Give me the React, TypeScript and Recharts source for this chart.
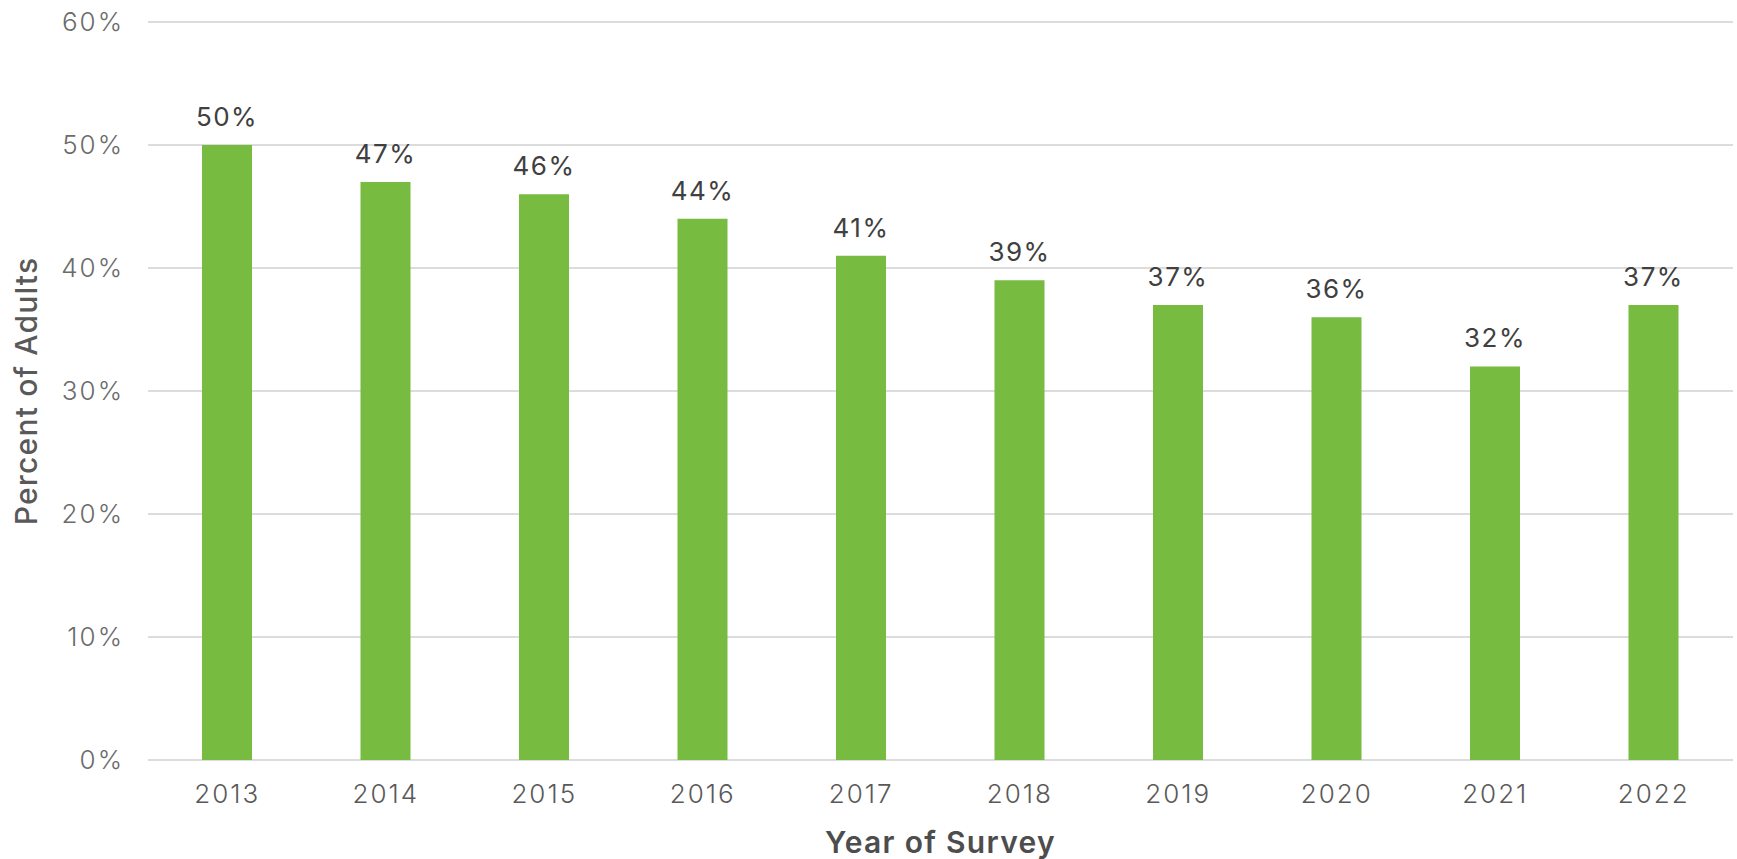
import React from 'react';
import { BarChart, Bar, XAxis, YAxis, CartesianGrid, LabelList, Label } from 'recharts';

const years = ['2013', '2014', '2015', '2016', '2017', '2018', '2019', '2020', '2021', '2022'];
const percentAdults = [50, 47, 46, 44, 41, 39, 37, 36, 32, 37];
const yTicks = [0, 10, 20, 30, 40, 50, 60];

const data = years.map((year, i) => ({ year, value: percentAdults[i] }));

const FONT = 'Inter, "Noto Sans", sans-serif';

const YTitle = (props: any) => {
  const vb = props.viewBox || {};
  const cy = vb.y + vb.height / 2;
  const x = 37;
  return (
    <text
      x={x}
      y={cy}
      transform={`rotate(-90 ${x} ${cy})`}
      textAnchor="middle"
      fill="#595959"
      fontSize={30}
      fontWeight={500}
      fontFamily={FONT}
      letterSpacing={1.2}
    >
      Percent of Adults
    </text>
  );
};

export default function App() {
  return (
    <div style={{ position: 'absolute', left: 0, top: 0, background: '#fff' }}>
      <BarChart
        width={1737}
        height={859}
        data={data}
        margin={{ top: 22, right: 4, bottom: 0, left: 0 }}
        barCategoryGap={0}
      >
        <CartesianGrid vertical={false} stroke="#dcdcdc" strokeWidth={2} />
        <XAxis
          dataKey="year"
          height={99}
          axisLine={false}
          tickLine={false}
          tickSize={0}
          tickMargin={25}
          interval={0}
          tick={{ fill: '#595959', fontSize: 26, fontFamily: FONT, fontWeight: 300, letterSpacing: 2 }}
        >
          <Label
            value="Year of Survey"
            position="insideBottom"
            offset={6}
            fill="#4d4d4d"
            fontSize={30}
            fontWeight={600}
            fontFamily={FONT}
            letterSpacing={1.3}
          />
        </XAxis>
        <YAxis
          width={148}
          domain={[0, 60]}
          ticks={yTicks}
          tickFormatter={(v: number) => `${v}%`}
          axisLine={false}
          tickLine={false}
          tickSize={0}
          tickMargin={24}
          tick={{ fill: '#6b6b6b', fontSize: 26, fontFamily: FONT, fontWeight: 300, letterSpacing: 2 }}
        >
          <Label content={<YTitle />} />
        </YAxis>
        <Bar dataKey="value" fill="#77bb41" barSize={50} isAnimationActive={false}>
          <LabelList
            dataKey="value"
            position="top"
            offset={19}
            formatter={(v: number) => `${v}%`}
            fill="#404040"
            fontSize={26}
            fontFamily={FONT}
            fontWeight={400}
            letterSpacing={1.5}
          />
        </Bar>
      </BarChart>
    </div>
  );
}
